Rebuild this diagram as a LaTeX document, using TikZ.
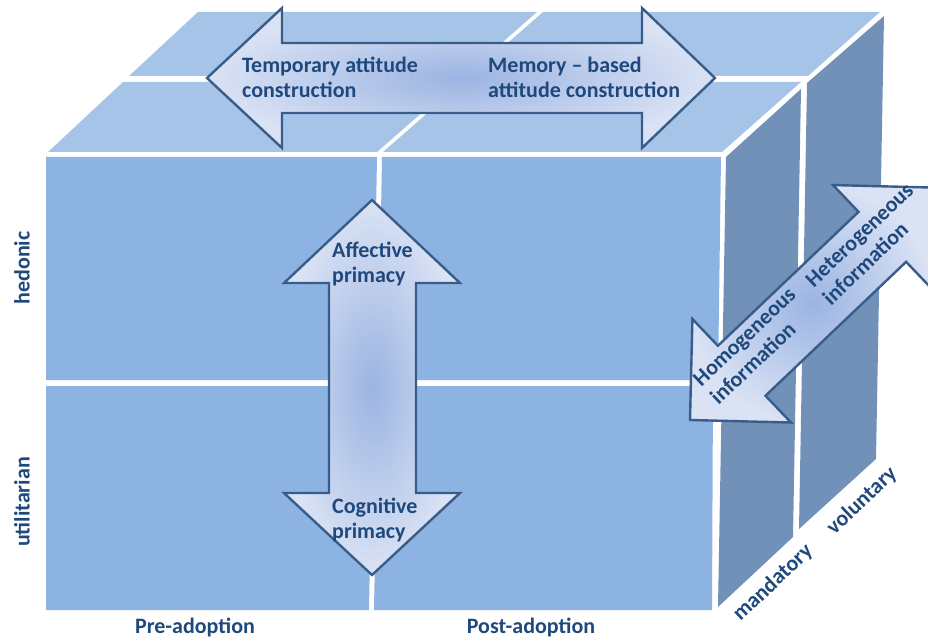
\documentclass[tikz,border=0pt]{standalone}
\usepackage{fontspec}
\setmainfont{Carlito}
\definecolor{frontc}{HTML}{8DB3E2}
\definecolor{topc}{HTML}{A6C4E8}
\definecolor{sidec}{HTML}{7191B9}
\definecolor{arrowline}{HTML}{385D8A}
\definecolor{arrowin}{HTML}{9BB4E2}
\definecolor{arrowout}{HTML}{DAE2F4}
\definecolor{textc}{HTML}{1F497D}
\begin{document}
\begin{tikzpicture}[x=1pt,y=-1pt,
  frontblock/.style={fill=frontc},
  topblock/.style={fill=topc},
  sideblock/.style={fill=sidec},
  bigarrow/.style={draw=arrowline, line width=2.4pt, line join=miter,
    inner color=arrowin, outer color=arrowout},
  lbl/.style={text=textc, font=\fontsize{22}{25}\selectfont\bfseries, inner sep=0pt},
  albl/.style={lbl, align=left}]
\useasboundingbox (0,0) rectangle (928,639);
\clip (0,0) rectangle (928,639);

% ---- top face ----
\path[topblock] (48,152) -- (377,152) -- (457,82) -- (123,82) -- cycle;
\path[topblock] (383,152) -- (722,152) -- (801,82) -- (463,82) -- cycle;
\path[topblock] (129,76) -- (464,76) -- (537,12) -- (198,12) -- cycle;
\path[topblock] (470,76) -- (808,76) -- (880,12) -- (543,12) -- cycle;

% ---- front face ----
\path[frontblock] (46,157) -- (377,157) -- (373,380) -- (46,380) -- cycle;
\path[frontblock] (382,157) -- (721,157) -- (718,380) -- (378,380) -- cycle;
\path[frontblock] (46,386) -- (373,386) -- (369,610) -- (46,610) -- cycle;
\path[frontblock] (378,386) -- (713,386) -- (712,610) -- (374,610) -- cycle;

% ---- right face ----
\path[sideblock] (726,157) -- (801,89) -- (793,537) -- (718,607) -- cycle;
\path[sideblock] (807,83) -- (884,16) -- (876,459) -- (799,529) -- cycle;

% ---- horizontal double arrow ----
\path[bigarrow] (207,78) -- (282,8) -- (282,43) -- (642,43) -- (642,8) -- (715,78)
  -- (642,148) -- (642,113) -- (282,113) -- (282,148) -- cycle;

% ---- vertical double arrow ----
\path[bigarrow] (372,200) -- (460,283) -- (416,283) -- (416,493) -- (460,493) -- (372,575)
  -- (284,493) -- (329,493) -- (329,283) -- (284,283) -- cycle;

% ---- diagonal double arrow ----
\begin{scope}[shift={(690,420)}, rotate=43.6]
\path[bigarrow] (0,0) -- (71.4,-71.5) -- (71.4,-34.5) -- (265.6,-34.5) -- (265.6,-71.5)
  -- (337,0) -- (265.6,71.5) -- (265.6,34.5) -- (71.4,34.5) -- (71.4,71.5) -- cycle;
\end{scope}

% ---- texts ----
\node[albl, anchor=west] (tac) at (242,77.5) {Temporary attitude\\construction};
\node[albl, anchor=west] (mbac) at (488,77) {Memory – based\\attitude construction};
\node[albl, anchor=west] (aff) at (332,264) {Affective\\primacy};
\node[albl, anchor=west] (cog) at (332,519.5) {Cognitive\\primacy};
\node[albl, rotate=43.6] (homo) at (753,346) {Homogeneous\\information};
\node[albl, rotate=43.6] (hetero) at (868,244) {Heterogeneous\\information};

\node[lbl, rotate=90] (hed) at (22,268) {hedonic};
\node[lbl, rotate=90] (util) at (22,502) {utilitarian};
\node[lbl] (pre) at (195,627) {Pre-adoption};
\node[lbl] (post) at (531,627) {Post-adoption};
\node[lbl, rotate=43.5] (mand) at (773,583) {mandatory};
\node[lbl, rotate=43.5] (vol) at (862,501) {voluntary};
\end{tikzpicture}
\end{document}
